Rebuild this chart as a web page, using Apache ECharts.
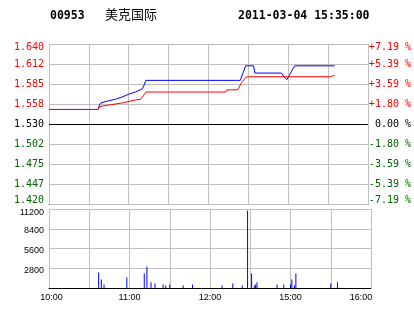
<!DOCTYPE html>
<html><head><meta charset="utf-8">
<script src="https://cdn.jsdelivr.net/npm/echarts@6/dist/echarts.min.js"></script>
<style>html,body{margin:0;padding:0;background:#fff}#c{width:414px;height:314px}</style>
</head><body><div id="c"></div>
<script>
// minutes since 10:00 (trading minutes, 12:30 joins 14:30)
const priceTime = [0,37,38,39,45,50,55,60,65,70,71,73,144,146,148,154,155,175,177,179,181,183,185,215];
const priceVals = [1.550,1.550,1.556,1.559,1.562,1.564,1.567,1.571,1.574,1.578,1.581,1.590,1.590,1.600,1.610,1.610,1.600,1.600,1.595,1.591,1.597,1.604,1.610,1.610];
const avgTime = [0,37,38,45,55,65,69,71,73,133,134,142,145,148,150,212,213,215];
const avgVals = [1.550,1.550,1.554,1.556,1.559,1.563,1.564,1.569,1.574,1.574,1.577,1.577,1.587,1.594,1.595,1.595,1.597,1.597];
const volTime = [37,39,41,58,71,73,76,79,85,87,90,100,107,129,137,144,148,151,153,154,155,170,175,180,181,183,184,210,215];
const volVals = [2200,1200,500,1500,2050,3050,800,650,500,350,500,350,500,350,650,350,11000,2050,350,500,800,500,500,500,1200,350,2050,650,800];
const prevClose = 1.530;
const priceTicks = [1.42,1.4475,1.475,1.5025,1.53,1.5575,1.585,1.6125,1.64];
const priceLabels = ['1.420','1.447','1.475','1.502','1.530','1.558','1.585','1.612','1.640'];
const pctTicks = [-7.19,-5.39,-3.59,-1.80,0,1.80,3.59,5.39,7.19];
const pctLabels = ['-7.19 %','-5.39 %','-3.59 %','-1.80 %',' 0.00 %','+1.80 %','+3.59 %','+5.39 %','+7.19 %'];
const timeTicks = [0,60,120,180,240];
const timeLabels = ['10:00','11:00','12:00','15:00','16:00'];
const sessionEnd = 240;
const volTicks = [2800,5600,8400,11200];
const volLabels = ['2800','5600','8400','11200'];
const titleCode = '00953';
const titleName = '美克国际';
const titleTime = '2011-03-04 15:35:00';

const RED = '#ff0000', GREEN = '#005f00', GRID = '#c0c0c0';
const MONO = '"DejaVu Sans Mono", monospace';
const SANS = '"Liberation Sans", Arial';
function idx(arr, v){ return arr.findIndex(t => Math.abs(t - v) < 1e-6); }
function styleKey(i, n){
  const mid = (n - 1) / 2;
  let k = i > mid ? 'r' : (i < mid ? 'g' : 'k');
  if (i === n - 1) k += 't';
  if (i === 0) k += 'b';
  return k;
}
const richMain = {
  r:{color:RED}, rt:{color:RED,padding:[7,0,0,0]},
  k:{color:'#000'},
  g:{color:GREEN}, gb:{color:GREEN,padding:[0,0,7,0]}
};
Object.values(richMain).forEach(s => { s.fontFamily = MONO; s.fontSize = 10; });

// horizontal grid of the price panel: one line per price tick, placed by the price axis
const gridLines = {
  type:'custom', xAxisIndex:0, yAxisIndex:0, silent:true, z:10, clip:false,
  data: priceTicks.map(v => [0, v]),
  renderItem:(params, api) => {
    const v = api.value(1);
    const p1 = api.coord([0, v]);
    const p2 = api.coord([sessionEnd, v]);
    const y = Math.round(p1[1]) + 0.5;
    return {type:'line', z2:0, shape:{x1:p1[0], y1:y, x2:p2[0], y2:y},
      style:{stroke: Math.abs(v - prevClose) < 1e-6 ? '#000000' : '#bdbdbd', lineWidth:1, opacity:1}};
  }
};

const chart = echarts.init(document.getElementById('c'), null, {renderer:'canvas'});
chart.setOption({
  animation:false,
  backgroundColor:'#fff',
  graphic:[
    {type:'text', left:50, top:10, style:{text:titleCode, font:'bold 11.5px ' + MONO, fill:'#000'}},
    {type:'text', left:105, top:8, style:{text:titleName, font:'13px "Noto Sans CJK SC"', fill:'#000'}},
    {type:'text', left:238, top:10, style:{text:titleTime, font:'bold 11.5px ' + MONO, fill:'#000'}}
  ],
  grid:[
    {left:49, top:44, width:322, height:160},
    {left:49, top:209, width:322, height:79}
  ],
  xAxis:[
    {gridIndex:0, type:'value', min:0, max:240, interval:30,
     axisLine:{show:true, onZero:false, lineStyle:{color:'#000', width:1}},
     axisTick:{show:false}, axisLabel:{show:false},
     splitLine:{show:true, lineStyle:{color:GRID, width:1}}},
    {gridIndex:1, type:'value', min:0, max:240, interval:30,
     axisLine:{show:true, onZero:false, lineStyle:{color:'#000', width:1}},
     axisTick:{show:false},
     axisLabel:{show:true, customValues:timeTicks, margin:5, fontFamily:SANS, fontSize:9, color:'#000',
       formatter:(v)=>{ const i = idx(timeTicks, v); if (i === 0) return '{a|' + timeLabels[i] + '}'; if (i === timeTicks.length-1) return '{b|' + timeLabels[i] + '}'; return timeLabels[i]; },
       rich:{a:{padding:[0,0,0,5], fontFamily:SANS, fontSize:9, color:'#000'}, b:{padding:[0,20,0,0], fontFamily:SANS, fontSize:9, color:'#000'}}},
     splitLine:{show:true, lineStyle:{color:GRID, width:1}}}
  ],
  yAxis:[
    {gridIndex:0, type:'value', min:1.42, max:1.64, interval:0.0275, position:'left',
     axisLine:{show:false}, axisTick:{show:false},
     axisLabel:{customValues:priceTicks, margin:5, fontFamily:MONO, fontSize:10,
       formatter:(v)=>{ const i = idx(priceTicks, v); return i < 0 ? '' : '{' + styleKey(i, priceTicks.length) + '|' + priceLabels[i] + '}'; },
       rich:richMain},
     splitLine:{show:true, lineStyle:{color:GRID, width:1}}},
    {gridIndex:0, type:'value', min:-7.19, max:7.19, position:'right',
     axisLine:{show:true, onZero:false, lineStyle:{color:GRID}}, axisTick:{show:false},
     axisLabel:{customValues:pctTicks, margin:1, fontFamily:MONO, fontSize:10,
       formatter:(v)=>{ const i = idx(pctTicks, v); return '{' + styleKey(i, pctTicks.length) + '|' + pctLabels[i] + '}'; },
       rich:richMain},
     splitLine:{show:false}},
    {gridIndex:1, type:'value', min:0, max:11200, interval:2800,
     axisLine:{show:false}, axisTick:{show:false},
     axisLabel:{margin:5, fontFamily:SANS, fontSize:9, color:'#000',
       formatter:(v)=>{ const i = idx(volTicks, v); if (i < 0) return ''; return (i === volTicks.length-1 ? '{t|' : '{m|') + volLabels[i] + '}'; },
       rich:{t:{padding:[8,0,0,0], fontFamily:SANS, fontSize:9, color:'#000'}, m:{padding:[4,0,0,0], fontFamily:SANS, fontSize:9, color:'#000'}}},
     splitLine:{show:true, lineStyle:{color:GRID, width:1}}}
  ],
  series:[
    gridLines,
    {type:'line', xAxisIndex:0, yAxisIndex:0, symbol:'none', silent:true, z:11,
     data:priceTime.map((t,i)=>[t, priceVals[i]]),
     lineStyle:{color:'#0000ff', width:1}},
    {type:'line', xAxisIndex:0, yAxisIndex:0, symbol:'none', silent:true, z:12,
     data:avgTime.map((t,i)=>[t, avgVals[i]]),
     lineStyle:{color:'#ff0000', width:1}},
    {type:'bar', xAxisIndex:1, yAxisIndex:2, barWidth:1, silent:true,
     data:volTime.map((t,i)=>[t, volVals[i]]),
     itemStyle:{color:'#0000ff'}}
  ]
});
</script></body></html>
